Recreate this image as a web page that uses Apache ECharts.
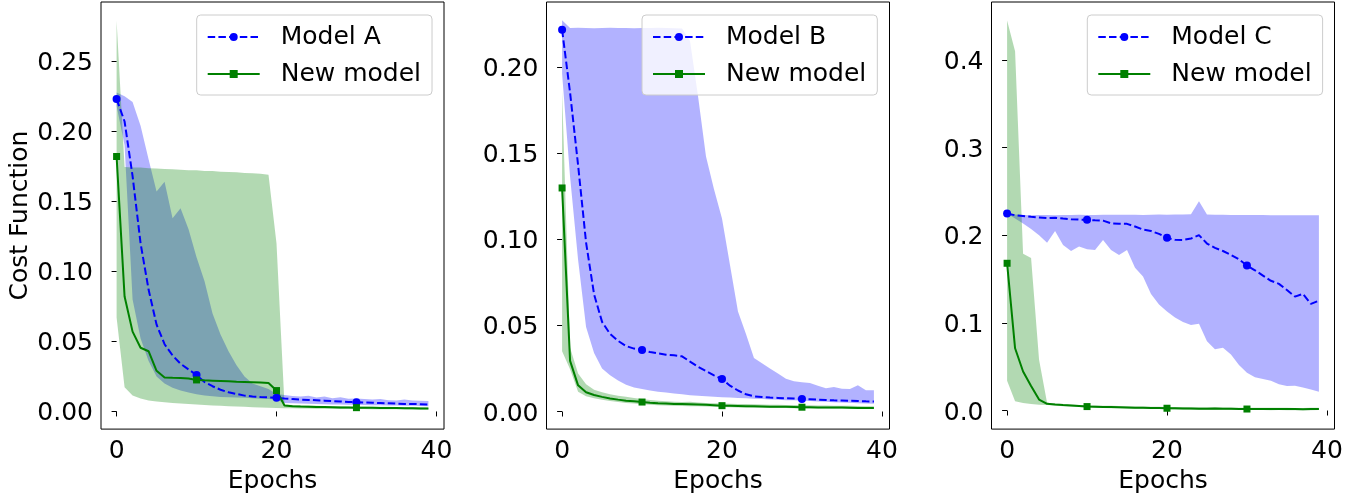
<!DOCTYPE html>
<html>
<head>
<meta charset="utf-8">
<script src="https://cdn.jsdelivr.net/npm/echarts@6/dist/echarts.min.js"></script>
<style>
  html, body { margin: 0; padding: 0; background: #ffffff; }
  #chart { width: 1370px; height: 499px; }
</style>
</head>
<body>
<div id="chart"></div>
<script>
// Training epochs
const epochs = [0, 1, 2, 3, 4, 5, 6, 7, 8, 9, 10, 11, 12, 13, 14, 15, 16, 17, 18, 19,
                20, 21, 22, 23, 24, 25, 26, 27, 28, 29, 30, 31, 32, 33, 34, 35, 36, 37, 38, 39];

// Panel 1: Model A vs new model (mean and min/max band)
const modelA_mean = [0.223, 0.207, 0.168, 0.120, 0.087, 0.062, 0.048, 0.040, 0.034, 0.030,
  0.026, 0.021, 0.018, 0.0155, 0.0137, 0.0125, 0.0113, 0.0107, 0.0103, 0.0100,
  0.0097, 0.0092, 0.0088, 0.0085, 0.0082, 0.0080, 0.0077, 0.0074, 0.0071, 0.0068,
  0.0066, 0.0064, 0.0062, 0.0060, 0.0058, 0.0056, 0.0054, 0.0053, 0.0052, 0.0050];
const modelA_hi = [0.2277, 0.225, 0.221, 0.204, 0.180, 0.157, 0.164, 0.138, 0.145, 0.130,
  0.110, 0.093, 0.070, 0.055, 0.043, 0.033, 0.025, 0.020, 0.018, 0.016,
  0.0125, 0.0118, 0.0110, 0.0106, 0.0112, 0.0100, 0.0106, 0.0095, 0.0101, 0.0090,
  0.0093, 0.0088, 0.0085, 0.0089, 0.0080, 0.0079, 0.0086, 0.0078, 0.0076, 0.0075];
const modelA_lo = [0.218, 0.19, 0.08, 0.052, 0.036, 0.025, 0.020, 0.017, 0.015, 0.0135,
  0.0122, 0.0114, 0.0108, 0.0104, 0.0101, 0.0099, 0.0097, 0.0094, 0.0091, 0.0088,
  0.0084, 0.0060, 0.0058, 0.0056, 0.0055, 0.0053, 0.0052, 0.0050, 0.0049, 0.0048,
  0.0047, 0.0046, 0.0045, 0.0044, 0.0043, 0.0042, 0.0041, 0.0040, 0.0039, 0.0038];
const newA_mean = [0.182, 0.082, 0.057, 0.0455, 0.043, 0.029, 0.0243, 0.024, 0.0238, 0.0235,
  0.0225, 0.0222, 0.022, 0.0218, 0.0215, 0.0212, 0.021, 0.0208, 0.0206, 0.0203,
  0.0149, 0.0042, 0.0037, 0.0035, 0.0034, 0.0032, 0.0031, 0.0030, 0.0029, 0.0028,
  0.0027, 0.0026, 0.0026, 0.0025, 0.0024, 0.0024, 0.0023, 0.0022, 0.0021, 0.0021];
const newA_hi = [0.279, 0.1745, 0.1742, 0.1741, 0.1736, 0.1735, 0.1731, 0.1729, 0.1726, 0.1722,
  0.1721, 0.1717, 0.1716, 0.1711, 0.1709, 0.1707, 0.1702, 0.1701, 0.1697, 0.1690,
  0.120, 0.0050, 0.0046, 0.0045, 0.0042, 0.0041, 0.0039, 0.0038, 0.0038, 0.0036,
  0.0035, 0.0035, 0.0034, 0.0033, 0.0033, 0.0032, 0.0031, 0.0031, 0.0030, 0.0029];
const newA_lo = [0.067, 0.0172, 0.0113, 0.0092, 0.0079, 0.0071, 0.0066, 0.0060, 0.0056, 0.0053,
  0.0049, 0.0046, 0.0043, 0.0040, 0.0038, 0.0035, 0.0033, 0.0030, 0.0028, 0.0026,
  0.0024, 0.0023, 0.0022, 0.0021, 0.0021, 0.0020, 0.0019, 0.0019, 0.0018, 0.0018,
  0.0017, 0.0017, 0.0016, 0.0016, 0.0015, 0.0015, 0.0015, 0.0014, 0.0014, 0.0014];

// Panel 2: Model B vs new model
const modelB_mean = [0.2215, 0.185, 0.143, 0.098, 0.068, 0.052, 0.045, 0.041, 0.038, 0.0365,
  0.0357, 0.0345, 0.0337, 0.033, 0.0326, 0.032, 0.029, 0.026, 0.0235, 0.021,
  0.0188, 0.0150, 0.0122, 0.0100, 0.0088, 0.0084, 0.0081, 0.0079, 0.0077, 0.0075,
  0.0073, 0.0071, 0.0069, 0.0067, 0.0065, 0.0064, 0.0062, 0.0061, 0.0059, 0.0058];
const modelB_hi = [0.227, 0.2225, 0.2226, 0.2225, 0.2224, 0.2225, 0.2226, 0.2225, 0.2225, 0.2224,
  0.2225, 0.2225, 0.2226, 0.2225, 0.2224, 0.2222, 0.215, 0.183, 0.148, 0.129,
  0.112, 0.085, 0.058, 0.045, 0.031, 0.028, 0.025, 0.022, 0.019, 0.0175,
  0.017, 0.0165, 0.015, 0.0135, 0.0142, 0.0132, 0.013, 0.0153, 0.0124, 0.0124];
const modelB_lo = [0.196, 0.136, 0.088, 0.049, 0.034, 0.025, 0.021, 0.018, 0.0155, 0.014,
  0.0131, 0.0122, 0.0115, 0.0110, 0.0104, 0.0100, 0.0095, 0.0091, 0.0088, 0.0085,
  0.0083, 0.0081, 0.0078, 0.0077, 0.0074, 0.0073, 0.0070, 0.0069, 0.0066, 0.0065,
  0.0062, 0.0061, 0.0058, 0.0057, 0.0054, 0.0053, 0.0051, 0.0048, 0.0047, 0.0045];
const newB_mean = [0.1297, 0.0294, 0.0152, 0.0112, 0.0096, 0.0085, 0.0076, 0.0069, 0.0063, 0.0059,
  0.0055, 0.0051, 0.0048, 0.0046, 0.0044, 0.0043, 0.0042, 0.0041, 0.0039, 0.0037,
  0.0034, 0.0033, 0.0032, 0.0031, 0.0030, 0.0029, 0.0028, 0.0028, 0.0027, 0.0026,
  0.0025, 0.0025, 0.0024, 0.0024, 0.0023, 0.0023, 0.0022, 0.0021, 0.0020, 0.0021];
const newB_hi = [0.186, 0.037, 0.022, 0.0158, 0.0127, 0.0112, 0.0100, 0.0092, 0.0086, 0.0079,
  0.0073, 0.0067, 0.0063, 0.0059, 0.0056, 0.0055, 0.0057, 0.0053, 0.0050, 0.0048,
  0.0046, 0.0045, 0.0044, 0.0043, 0.0042, 0.0041, 0.0040, 0.0039, 0.0038, 0.0038,
  0.0037, 0.0036, 0.0035, 0.0035, 0.0034, 0.0034, 0.0033, 0.0032, 0.0031, 0.0031];
const newB_lo = [0.035, 0.0245, 0.0115, 0.0088, 0.0077, 0.0068, 0.0061, 0.0055, 0.0050, 0.0046,
  0.0042, 0.0039, 0.0037, 0.0035, 0.0033, 0.0032, 0.0031, 0.0030, 0.0029, 0.0028,
  0.0026, 0.0025, 0.0024, 0.0023, 0.0022, 0.0022, 0.0021, 0.0020, 0.0020, 0.0019,
  0.0018, 0.0018, 0.0017, 0.0017, 0.0016, 0.0016, 0.0015, 0.0015, 0.0014, 0.0014];

// Panel 3: Model C vs new model
const modelC_mean = [0.2247, 0.2228, 0.222, 0.221, 0.2203, 0.2196, 0.2200, 0.2190, 0.2183, 0.2178,
  0.2176, 0.2170, 0.2166, 0.2135, 0.2132, 0.2130, 0.2100, 0.2065, 0.2048, 0.2015,
  0.1970, 0.1948, 0.1945, 0.1963, 0.2001, 0.1905, 0.1855, 0.1820, 0.1775, 0.1725,
  0.1654, 0.1600, 0.1540, 0.1480, 0.1445, 0.1375, 0.1300, 0.1330, 0.1216, 0.1253];
const modelC_hi = [0.2250, 0.2236, 0.2232, 0.2228, 0.2230, 0.2231, 0.2229, 0.2230, 0.2232, 0.2233,
  0.2231, 0.2230, 0.2234, 0.2235, 0.2234, 0.2235, 0.2233, 0.2232, 0.2234, 0.2236,
  0.2235, 0.2236, 0.2237, 0.2240, 0.2387, 0.2236, 0.2234, 0.2233, 0.2232, 0.2232,
  0.2231, 0.2230, 0.2230, 0.2229, 0.2229, 0.2228, 0.2228, 0.2228, 0.2227, 0.2227];
const modelC_lo = [0.2247, 0.2190, 0.2134, 0.2070, 0.2001, 0.1915, 0.2047, 0.1888, 0.1820, 0.1870,
  0.1840, 0.1832, 0.1945, 0.1832, 0.1775, 0.1832, 0.1630, 0.1530, 0.1330, 0.1210,
  0.1130, 0.1060, 0.1010, 0.0975, 0.0989, 0.0790, 0.0700, 0.0717, 0.0640, 0.0520,
  0.0430, 0.0380, 0.0360, 0.0340, 0.0300, 0.0280, 0.0283, 0.0264, 0.0240, 0.0215];
const newC_mean = [0.168, 0.071, 0.0445, 0.028, 0.0125, 0.0076, 0.0068, 0.0062, 0.0057, 0.0051,
  0.0045, 0.0043, 0.0041, 0.0039, 0.0037, 0.0035, 0.0033, 0.0032, 0.0030, 0.0028,
  0.0026, 0.0025, 0.0023, 0.0022, 0.0021, 0.0021, 0.0022, 0.0020, 0.0019, 0.0018,
  0.0017, 0.0017, 0.0018, 0.0016, 0.0017, 0.0016, 0.0016, 0.0015, 0.0016, 0.0017];
const newC_hi = [0.445, 0.410, 0.179, 0.174, 0.058, 0.0088, 0.0080, 0.0074, 0.0069, 0.0064,
  0.0060, 0.0057, 0.0055, 0.0053, 0.0051, 0.0049, 0.0047, 0.0046, 0.0044, 0.0043,
  0.0041, 0.0040, 0.0039, 0.0037, 0.0036, 0.0036, 0.0037, 0.0035, 0.0034, 0.0033,
  0.0032, 0.0032, 0.0033, 0.0031, 0.0032, 0.0031, 0.0030, 0.0030, 0.0031, 0.0032];
const newC_lo = [0.034, 0.0105, 0.0085, 0.0073, 0.0066, 0.0062, 0.0056, 0.0050, 0.0045, 0.0040,
  0.0034, 0.0031, 0.0029, 0.0027, 0.0025, 0.0023, 0.0021, 0.0020, 0.0018, 0.0016,
  0.0014, 0.0013, 0.0011, 0.0010, 0.0009, 0.0009, 0.0010, 0.0008, 0.0007, 0.0006,
  0.0005, 0.0005, 0.0006, 0.0004, 0.0005, 0.0004, 0.0004, 0.0003, 0.0004, 0.0005];

// Tick labels
const xTicks = [0, 20, 40];
const yTicksA = [0, 0.05, 0.10, 0.15, 0.20, 0.25];
const yTicksB = [0, 0.05, 0.10, 0.15, 0.20];
const yTicksC = [0, 0.1, 0.2, 0.3, 0.4];

const FONT = 'DejaVu Sans';
const BLUE = '#0000ff';
const GREEN = '#008000';

const panels = [
  { name: 'Model A', mean: modelA_mean, lo: modelA_lo, hi: modelA_hi,
    nMean: newA_mean, nLo: newA_lo, nHi: newA_hi,
    yMin: -0.0126, yMax: 0.2923, yTicks: yTicksA, digits: 2, left: 101, legendLeft: 196.7 },
  { name: 'Model B', mean: modelB_mean, lo: modelB_lo, hi: modelB_hi,
    nMean: newB_mean, nLo: newB_lo, nHi: newB_hi,
    yMin: -0.0102, yMax: 0.2376, yTicks: yTicksB, digits: 2, left: 546.5, legendLeft: 642 },
  { name: 'Model C', mean: modelC_mean, lo: modelC_lo, hi: modelC_hi,
    nMean: newC_mean, nLo: newC_lo, nHi: newC_hi,
    yMin: -0.0212, yMax: 0.4661, yTicks: yTicksC, digits: 1, left: 991.5, legendLeft: 1087.3 }
];

// Filled min/max band drawn as one polygon through the axis scales
function bandSeries(idx, lo, hi, color) {
  return {
    type: 'custom',
    xAxisIndex: idx, yAxisIndex: idx,
    silent: true, z: 1,
    data: epochs.map((e, i) => [e, lo[i], hi[i]]),
    encode: { x: 0, y: [1, 2] },
    renderItem: (params, api) => {
      if (params.dataIndex !== 0) return null;
      const pts = [];
      for (let i = 0; i < epochs.length; i++) pts.push(api.coord([epochs[i], hi[i]]));
      for (let i = epochs.length - 1; i >= 0; i--) pts.push(api.coord([epochs[i], lo[i]]));
      return { type: 'polygon', shape: { points: pts }, style: { fill: color } };
    }
  };
}

// Mean curve with a marker every 10 epochs
function meanSeries(idx, name, values, color, symbol, size, dashed) {
  return {
    type: 'line', name: name,
    xAxisIndex: idx, yAxisIndex: idx,
    z: 3,
    symbol: symbol, symbolSize: size, showAllSymbol: true,
    data: epochs.map((e, i) => ({ value: [e, values[i]], symbol: i % 10 === 0 ? symbol : 'none' })),
    lineStyle: { color: color, width: 2, type: dashed ? [7.5, 3.2] : 'solid' },
    itemStyle: { color: color },
    emphasis: { disabled: true }
  };
}

const tickText = { fontSize: 25, color: '#000', fontFamily: FONT };

const grids = [], xAxes = [], yAxes = [], series = [], legends = [];
panels.forEach((p, i) => {
  grids.push({ left: p.left, top: 2, width: 343, height: 430, show: true,
    borderColor: '#000', borderWidth: 1, backgroundColor: 'transparent' });
  xAxes.push({
    type: 'value', gridIndex: i, min: -1.95, max: 40.95,
    axisLine: { show: false }, splitLine: { show: false },
    axisTick: { show: true, customValues: xTicks, length: 5, lineStyle: { color: '#000', width: 1 } },
    axisLabel: Object.assign({ customValues: xTicks, margin: 10 }, tickText),
    name: 'Epochs', nameLocation: 'middle', nameGap: 39,
    nameTextStyle: { fontSize: 25, color: '#000', fontFamily: FONT }
  });
  const y = {
    type: 'value', gridIndex: i, min: p.yMin, max: p.yMax,
    axisLine: { show: false }, splitLine: { show: false },
    axisTick: { show: true, customValues: p.yTicks, length: 5, lineStyle: { color: '#000', width: 1 } },
    axisLabel: Object.assign({ customValues: p.yTicks, margin: 8,
      formatter: v => '{t|' + Number(v).toFixed(p.digits) + '}',
      rich: { t: Object.assign({ padding: [5, 0, 0, 0] }, tickText) } }, tickText)
  };
  if (i === 0) {
    Object.assign(y, { name: 'Cost Function', nameLocation: 'middle', nameGap: 65,
      nameTextStyle: { fontSize: 25, color: '#000', fontFamily: FONT } });
  }
  yAxes.push(y);
  series.push(bandSeries(i, p.lo, p.hi, 'rgba(0,0,255,0.3)'));
  series.push(bandSeries(i, p.nLo, p.nHi, 'rgba(0,128,0,0.3)'));
  series.push(meanSeries(i, p.name, p.mean, BLUE, 'circle', 8, true));
  series.push(meanSeries(i, 'New model', p.nMean, GREEN, 'rect', 7, false));
  legends.push({
    data: [p.name, 'New model'],
    left: p.legendLeft, top: 15, orient: 'vertical',
    itemWidth: 52, itemHeight: 10, itemGap: 7,
    padding: [7, 11, 6, 10],
    backgroundColor: 'rgba(255,255,255,0.8)', borderColor: '#cccccc', borderWidth: 1, borderRadius: 4,
    selectedMode: false,
    textStyle: { fontSize: 25, fontFamily: FONT, color: '#000', lineHeight: 30, padding: [0, 0, 0, 16] }
  });
});

const chart = echarts.init(document.getElementById('chart'), null, { renderer: 'canvas' });
chart.setOption({
  animation: false,
  backgroundColor: '#ffffff',
  textStyle: { fontFamily: FONT },
  grid: grids, xAxis: xAxes, yAxis: yAxes, legend: legends, series: series
});
</script>
</body>
</html>
